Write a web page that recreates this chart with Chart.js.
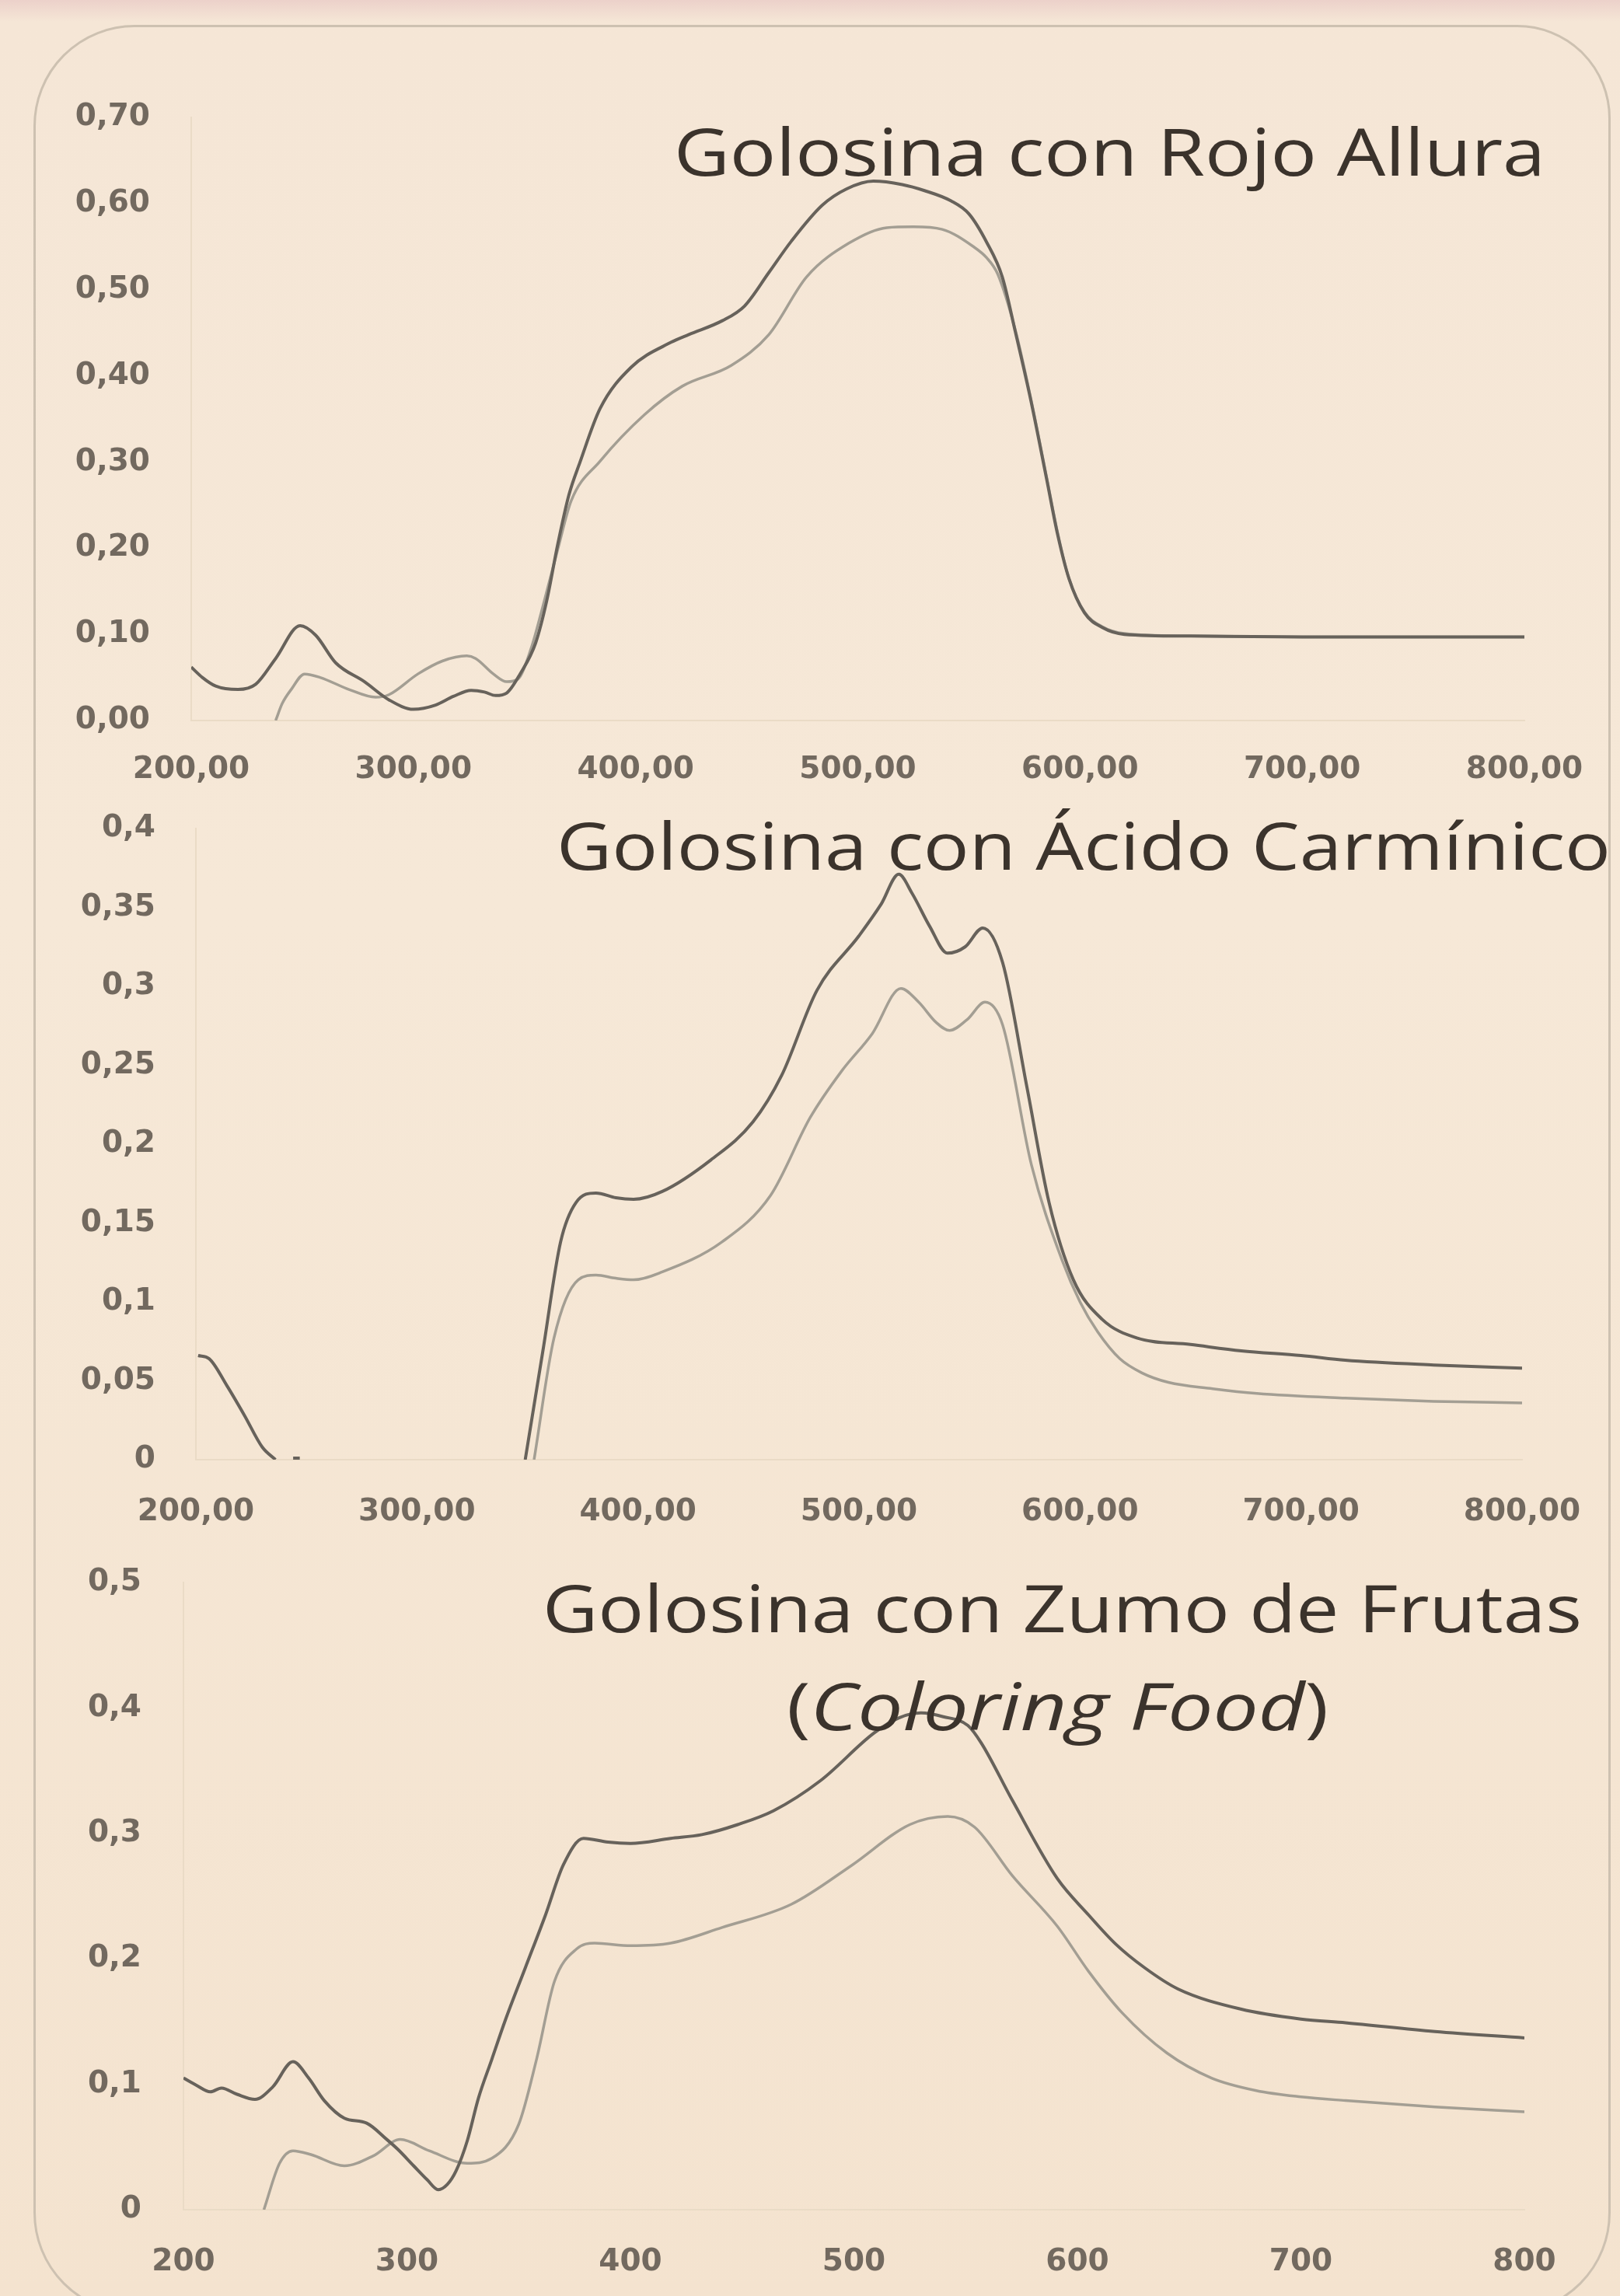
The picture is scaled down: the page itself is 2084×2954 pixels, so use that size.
<!DOCTYPE html>
<html lang="es">
<head>
<meta charset="utf-8">
<title>Espectros de absorción de golosinas</title>
<script src="https://cdn.jsdelivr.net/npm/chart.js@4.4.1/dist/chart.umd.min.js"></script>
<style>
  html, body { margin: 0; padding: 0; }
  body { width: 2084px; height: 2954px; overflow: hidden; background: #f5e6d4; }
  #page {
    position: relative; width: 2084px; height: 2954px; overflow: hidden;
    background: linear-gradient(180deg, #ecd1ca 0px, #f5e6d6 28px, #f6e8d7 40%, #f4e3cf 100%);
  }
  #frame {
    position: absolute; left: 43px; top: 32px; width: 2029px; height: 2945px;
    box-sizing: border-box; border: 3px solid #cdc1b1;
    border-radius: 130px 120px 130px 130px;
  }
  canvas { position: absolute; left: 0; }
</style>
</head>
<body>
<div id="page">
  <div id="frame"></div>
  <canvas id="panelRojo" width="2084" height="1040" style="top:0px;width:2084px;height:1040px"></canvas>
  <canvas id="panelCarmin" width="2084" height="940" style="top:1040px;width:2084px;height:940px"></canvas>
  <canvas id="panelZumo" width="2084" height="974" style="top:1980px;width:2084px;height:974px"></canvas>
</div>
<script>
// ---- Golosina con Rojo Allura: absorbance vs wavelength (nm) ----
const rojoNmA = [200,205,211,221,229,238,249,256,265,278,289,300,310,318,326,332,337,342,348,355,360,365,370,375,384,398,416,424,439,449,460,470,484,495,507,520,530,542,550,558,565,571,578,585,590,595,602,610,620,650,700,750,800];
const rojoAbsA = [0.062,0.050,0.040,0.036,0.042,0.072,0.110,0.099,0.067,0.045,0.024,0.013,0.018,0.028,0.035,0.033,0.029,0.032,0.054,0.090,0.139,0.205,0.262,0.300,0.362,0.410,0.439,0.448,0.464,0.481,0.520,0.556,0.598,0.617,0.626,0.622,0.615,0.603,0.588,0.555,0.515,0.450,0.370,0.280,0.215,0.165,0.125,0.108,0.100,0.098,0.097,0.097,0.097];
const rojoNmB = [238,241,245,251,258,271,283,289,302,313,324,328,336,342,347,353,358,365,371,384,404,421,443,460,477,496,513,525,538,552,558,563,571,578,585,590,595,602,610,620,650,700,750,800];
const rojoAbsB = [0.000,0.020,0.036,0.054,0.050,0.036,0.027,0.030,0.054,0.069,0.075,0.072,0.054,0.045,0.048,0.084,0.130,0.199,0.255,0.301,0.355,0.388,0.412,0.448,0.515,0.554,0.572,0.573,0.570,0.550,0.537,0.518,0.452,0.372,0.282,0.217,0.165,0.126,0.109,0.101,0.098,0.097,0.097,0.097];

// ---- Golosina con Ácido Carmínico ----
const carminNmA = [201,206,214,222,230,236,240,244,247,250,349,357,365,372,381,390,398,411,433,452,465,481,500,510,518,524,532,540,548,556,565,576,586,597,610,626,650,673,700,720,760,800];
const carminAbsA = [0.066,0.064,0.047,0.028,0.008,0.000,null,0.001,0.001,null,0.000,0.069,0.138,0.163,0.169,0.166,0.165,0.170,0.190,0.214,0.2435,0.2975,0.332,0.352,0.371,0.359,0.338,0.321,0.325,0.337,0.315,0.236,0.163,0.114,0.089,0.077,0.073,0.069,0.066,0.063,0.060,0.058];
const carminNmB = [353,362,373,381,390,398,411,438,460,478,492,506,519,527,535,541,549,557,565,578,592,600,608,618,628,640,660,680,720,760,800];
const carminAbsB = [0.000,0.077,0.114,0.117,0.115,0.114,0.119,0.138,0.1675,0.217,0.246,0.270,0.2987,0.290,0.277,0.272,0.279,0.290,0.2755,0.187,0.126,0.100,0.081,0.064,0.055,0.049,0.045,0.042,0.039,0.037,0.036];

// ---- Golosina con Zumo de Frutas (Coloring Food) ----
const zumoNmA = [200,206,212,217,224,232,240,249,256,263,272,282,291,296,303,309,314,318,322,327,332,338,344,353,362,370,379,390,400,418,432,448,464,485,509,520,530,540,551,557,571,591,605,617,630,645,673,700,720,760,800];
const zumoAbsA = [0.105,0.099,0.094,0.097,0.092,0.088,0.098,0.118,0.105,0.087,0.073,0.069,0.056,0.048,0.035,0.024,0.016,0.020,0.031,0.055,0.089,0.120,0.151,0.193,0.235,0.275,0.296,0.293,0.292,0.296,0.299,0.307,0.318,0.342,0.380,0.392,0.396,0.393,0.386,0.372,0.326,0.264,0.235,0.212,0.193,0.176,0.160,0.152,0.149,0.142,0.137];
const zumoNmB = [236,243,249,257,272,285,297,310,327,338,350,358,366,376,384,400,418,441,472,499,525,542,554,571,591,605,620,640,660,680,700,720,760,800];
const zumoAbsB = [0.000,0.037,0.047,0.044,0.035,0.043,0.056,0.047,0.037,0.041,0.068,0.120,0.182,0.208,0.2125,0.2105,0.2125,0.225,0.2435,0.2745,0.307,0.3135,0.305,0.266,0.226,0.190,0.157,0.125,0.105,0.095,0.090,0.087,0.082,0.078];

// ---- Tick labels and titles ----
const xLabelsDecimal = ['200,00','300,00','400,00','500,00','600,00','700,00','800,00'];
const xLabelsPlain = ['200','300','400','500','600','700','800'];
const yLabelsRojo = ['0,00','0,10','0,20','0,30','0,40','0,50','0,60','0,70'];
const yLabelsCarmin = ['0','0,05','0,1','0,15','0,2','0,25','0,3','0,35','0,4'];
const yLabelsZumo = ['0','0,1','0,2','0,3','0,4','0,5'];
const titleRojo = 'Golosina con Rojo Allura';
const titleCarmin = 'Golosina con Ácido Carmínico';
const titleZumo = 'Golosina con Zumo de Frutas';
const titleZumoNote = ['(', 'Coloring Food', ')'];

const DARK = '#67625b';
const LIGHT = '#a39e93';
const TICK_COLOR = '#72695f';
const TICK_FONT = { family: "'DejaVu Sans', Verdana, sans-serif", size: 39, weight: 'bold' };

// Draws the slide-style headings on top of the plotted curves.
const panelTitle = {
  id: 'panelTitle',
  afterDraw(chart, args, opts) {
    if (!opts.lines) return;
    const ctx = chart.ctx;
    const fontOf = p => `${p.italic ? 'italic ' : ''}${opts.size}px ${opts.family}`;
    ctx.save();
    ctx.fillStyle = opts.color;
    ctx.textBaseline = 'alphabetic';
    ctx.textAlign = 'left';
    for (const line of opts.lines) {
      let total = 0;
      const parts = line.parts.map(p => {
        ctx.font = fontOf(p);
        const w = ctx.measureText(p.text).width;
        total += w;
        return { p, w };
      });
      ctx.save();
      ctx.translate(line.x, line.y);
      ctx.scale(line.width / total, 1);
      let cx = 0;
      for (const { p, w } of parts) {
        ctx.font = fontOf(p);
        ctx.fillText(p.text, cx, 0);
        cx += w;
      }
      ctx.restore();
    }
    ctx.restore();
  }
};
Chart.register(panelTitle);

const toPoints = (xs, ys) => xs.map((x, i) => ({ x, y: ys[i] }));

function buildPanel(id, cfg) {
  const series = (xs, ys, color, width) => ({
    data: toPoints(xs, ys),
    borderColor: color,
    borderWidth: width,
    pointRadius: 0,
    fill: false,
    spanGaps: false,
    cubicInterpolationMode: 'monotone'
  });
  return new Chart(document.getElementById(id), {
    type: 'line',
    data: {
      datasets: [
        series(cfg.xA, cfg.yA, DARK, 4),
        series(cfg.xB, cfg.yB, LIGHT, 3.5)
      ]
    },
    options: {
      responsive: false,
      maintainAspectRatio: false,
      animation: false,
      events: [],
      layout: { padding: { top: cfg.padTop, right: cfg.padRight, bottom: 0, left: 0 } },
      plugins: {
        legend: { display: false },
        tooltip: { enabled: false },
        panelTitle: {
          family: "'Open Sans', 'Noto Sans', sans-serif",
          size: 84,
          color: '#3b332c',
          lines: cfg.titles
        }
      },
      scales: {
        x: {
          type: 'linear',
          min: 200, max: 800,
          grid: { display: false, drawTicks: true, tickLength: cfg.xPad },
          border: { display: true, color: '#eadbc6', width: 2 },
          ticks: {
            stepSize: 100, autoSkip: false, maxRotation: 0,
            padding: 0, color: TICK_COLOR, font: TICK_FONT,
            callback: v => cfg.xLabels[Math.round((v - 200) / 100)]
          },
          afterFit: s => { s.height = cfg.xHeight; }
        },
        y: {
          type: 'linear',
          min: 0, max: cfg.yMax,
          // the gap between labels and plot comes from an invisible tick length,
          // so it does not push the plot area down
          grid: { display: false, drawTicks: true, tickLength: cfg.yPad },
          border: { display: true, color: '#eadbc6', width: 2 },
          ticks: {
            stepSize: cfg.yStep, autoSkip: false,
            padding: 0, color: TICK_COLOR, font: TICK_FONT,
            callback: v => cfg.yLabels[Math.round(v / cfg.yStep)]
          },
          afterFit: s => { s.width = cfg.yWidth; }
        }
      }
    }
  });
}

buildPanel('panelRojo', {
  xA: rojoNmA, yA: rojoAbsA, xB: rojoNmB, yB: rojoAbsB,
  xLabels: xLabelsDecimal, yLabels: yLabelsRojo,
  yMax: 0.7, yStep: 0.1,
  padTop: 151, padRight: 123, yWidth: 246, xHeight: 113,
  xPad: 40, yPad: 53,
  titles: [{ parts: [{ text: titleRojo }], x: 867, y: 226, width: 1121 }]
});

buildPanel('panelCarmin', {
  xA: carminNmA, yA: carminAbsA, xB: carminNmB, yB: carminAbsB,
  xLabels: xLabelsDecimal, yLabels: yLabelsCarmin,
  yMax: 0.4, yStep: 0.05,
  padTop: 26, padRight: 126, yWidth: 252, xHeight: 102,
  xPad: 44, yPad: 52,
  titles: [{ parts: [{ text: titleCarmin }], x: 716, y: 79, width: 1356 }]
});

buildPanel('panelZumo', {
  xA: zumoNmA, yA: zumoAbsA, xB: zumoNmB, yB: zumoAbsB,
  xLabels: xLabelsPlain, yLabels: yLabelsZumo,
  yMax: 0.5, yStep: 0.1,
  padTop: 56, padRight: 123, yWidth: 236, xHeight: 111,
  xPad: 44, yPad: 54,
  titles: [
    { parts: [{ text: titleZumo }], x: 698, y: 120, width: 1337 },
    { parts: [{ text: titleZumoNote[0] }, { text: titleZumoNote[1], italic: true }, { text: titleZumoNote[2] }], x: 1012, y: 246, width: 697 }
  ]
});
</script>
</body>
</html>
